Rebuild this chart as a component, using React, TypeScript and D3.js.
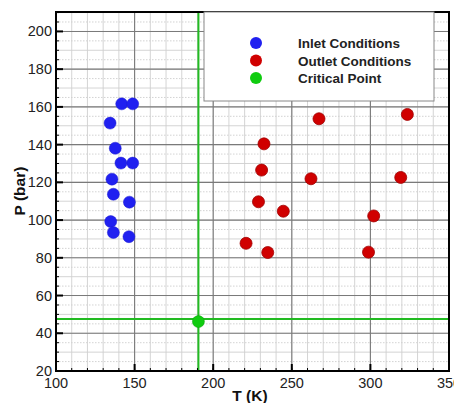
import React from "react";
import * as d3 from "d3";

const inletT = [141.8, 148.8, 134.4, 137.7, 141.3, 148.8, 135.6, 136.5, 146.7, 134.8, 136.5, 146.4];
const inletP = [161.6, 161.6, 151.4, 138.1, 130.2, 130.2, 121.7, 113.7, 109.5, 99.2, 93.4, 91.2];
const outletT = [267.3, 323.5, 232.3, 230.8, 262.2, 319.3, 228.8, 244.6, 302.1, 220.9, 234.7, 298.8];
const outletP = [153.7, 156.0, 140.4, 126.5, 121.9, 122.6, 109.7, 104.7, 102.2, 87.7, 82.8, 83.0];
const criticalT = [190.6];
const criticalP = [46.2];
const criticalLineP = 47.5;
const xTicks = [100, 150, 200, 250, 300, 350];
const yTicks = [20, 40, 60, 80, 100, 120, 140, 160, 180, 200];
const legendLabels = ["Inlet Conditions", "Outlet Conditions", "Critical Point"];

const W = 454, H = 403;
const left = 56, right = 449, top = 12, bottom = 371;

export default function App() {
  const x = d3.scaleLinear().domain([100, 350]).range([left, right]);
  const y = d3.scaleLinear().domain([20, 210.3]).range([bottom, top]);
  const xMinor = d3.range(100, 351, 10);
  const yMinor10 = d3.range(20, 211, 10);
  const yMinor5 = d3.range(25, 211, 10);
  const font = "'Liberation Sans', Arial, sans-serif";
  const colors = ["#2020f0", "#d00000", "#10cc10"];
  const strokes = ["#1a1ad0", "#a00000", "#0aa00a"];
  return (
    <svg width={W} height={H} style={{ position: "absolute", left: 0, top: 0, background: "#fff" }} fontFamily={font}>
      <rect x={0} y={0} width={W} height={H} fill="#fff" />
      {/* grid */}
      {yMinor5.map((v) => (
        <line key={"y5" + v} x1={left} x2={right} y1={y(v)} y2={y(v)} stroke="#c8c8c8" strokeWidth={0.8} strokeDasharray="1.5,1.5" />
      ))}
      {yMinor10.map((v) => (
        <line key={"y10" + v} x1={left} x2={right} y1={y(v)} y2={y(v)} stroke="#cfcfcf" strokeWidth={0.9} />
      ))}
      {xMinor.map((v) => (
        <line key={"x10" + v} x1={x(v)} x2={x(v)} y1={top} y2={bottom} stroke="#cfcfcf" strokeWidth={0.9} />
      ))}
      {yTicks.map((v) => (
        <line key={"ym" + v} x1={left} x2={right} y1={y(v)} y2={y(v)} stroke="#7a7a7a" strokeWidth={1.1} />
      ))}
      {xTicks.map((v) => (
        <line key={"xm" + v} x1={x(v)} x2={x(v)} y1={top} y2={bottom} stroke="#7a7a7a" strokeWidth={1.1} />
      ))}
      {/* critical lines */}
      <line x1={x(criticalT[0])} x2={x(criticalT[0])} y1={top} y2={bottom} stroke="#22bb22" strokeWidth={2} />
      <line x1={left} x2={right} y1={y(criticalLineP)} y2={y(criticalLineP)} stroke="#22bb22" strokeWidth={2} />
      {/* ticks */}
      {xMinor.map((v) => (
        <line key={"xt" + v} x1={x(v)} x2={x(v)} y1={bottom} y2={bottom - 3} stroke="#000" strokeWidth={1} />
      ))}
      {xTicks.map((v) => (
        <line key={"xT" + v} x1={x(v)} x2={x(v)} y1={bottom} y2={bottom - 7} stroke="#000" strokeWidth={2} />
      ))}
      {yMinor10.map((v) => (
        <line key={"yt" + v} x1={left} x2={left + 3} y1={y(v)} y2={y(v)} stroke="#000" strokeWidth={1} />
      ))}
      {yMinor5.map((v) => (
        <line key={"yt5" + v} x1={left} x2={left + 3} y1={y(v)} y2={y(v)} stroke="#000" strokeWidth={1} />
      ))}
      {yTicks.map((v) => (
        <line key={"yT" + v} x1={left} x2={left + 7} y1={y(v)} y2={y(v)} stroke="#000" strokeWidth={2} />
      ))}
      {/* frame */}
      <rect x={left} y={top} width={right - left} height={bottom - top} fill="none" stroke="#000" strokeWidth={2} />
      {/* points */}
      {inletT.map((t, i) => (
        <circle key={"in" + i} cx={x(t)} cy={y(inletP[i])} r={6} fill={colors[0]} stroke={strokes[0]} strokeWidth={0.5} />
      ))}
      {outletT.map((t, i) => (
        <circle key={"out" + i} cx={x(t)} cy={y(outletP[i])} r={6} fill={colors[1]} stroke={strokes[1]} strokeWidth={0.8} />
      ))}
      {criticalT.map((t, i) => (
        <circle key={"cr" + i} cx={x(t)} cy={y(criticalP[i])} r={6} fill={colors[2]} stroke={strokes[2]} strokeWidth={0.5} />
      ))}
      {/* legend */}
      <rect x={204} y={top} width={230} height={89} fill="#fff" stroke="#888" strokeWidth={1} />
      {legendLabels.map((lab, i) => (
        <g key={lab}>
          <circle cx={256} cy={43 + i * 17.5} r={6} fill={colors[i]} />
          <text x={298} y={48 + i * 17.5} fontSize={13.5} fontWeight="bold" fill="#222">{lab}</text>
        </g>
      ))}
      {/* tick labels */}
      {xTicks.map((v) => (
        <text key={"xl" + v} x={x(v)} y={388} textAnchor="middle" fontSize={14.5} fill="#222">{v}</text>
      ))}
      {yTicks.map((v) => (
        <text key={"yl" + v} x={52} y={y(v) + 5} textAnchor="end" fontSize={14.5} fill="#222">{v}</text>
      ))}
      <text x={250} y={401} textAnchor="middle" fontSize={15.5} fontWeight="bold" fill="#111">T (K)</text>
      <text transform="translate(25,191) rotate(-90)" textAnchor="middle" fontSize={15.5} fontWeight="bold" fill="#111">P (bar)</text>
    </svg>
  );
}
